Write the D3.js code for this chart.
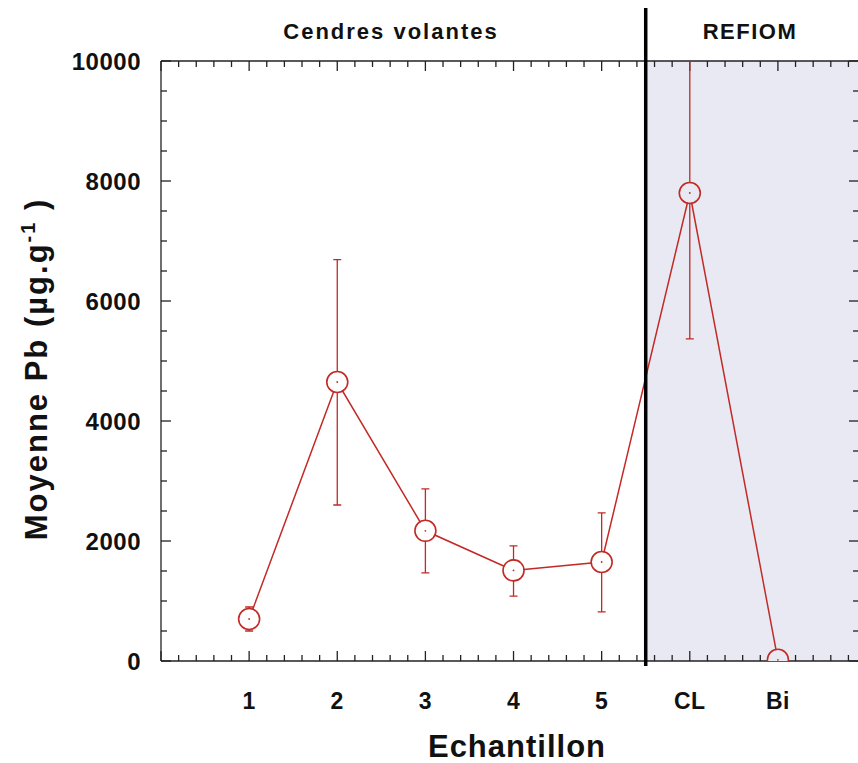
<!DOCTYPE html>
<html>
<head>
<meta charset="utf-8">
<script src="https://cdn.jsdelivr.net/npm/d3@7"></script>
<style>
  body { margin: 0; background: #fff; }
  text { font-family: "Liberation Sans", Arial, sans-serif; font-weight: bold; fill: #111; }
</style>
</head>
<body>
<div id="chart"></div>
<script>
// Data
let samples = [1, 2, 3, 4, 5, 6, 7];
let tickLabels = ["1", "2", "3", "4", "5", "CL", "Bi"];
let meanPb = [700, 4650, 2170, 1510, 1650, 7800, 20];
let errLow = [500, 2600, 1470, 1080, 820, 5370, null];
let errHigh = [900, 6690, 2870, 1920, 2470, 10230, null];
let yTicks = [0, 2000, 4000, 6000, 8000, 10000];

let svgWidth = 858;
let svgHeight = 763;

let margin = { top: 61, left: 161 };
let plotRight = 859;
let plotBottom = 661;

let svg = d3.select("#chart")
  .append("svg")
  .attr("width", svgWidth)
  .attr("height", svgHeight);

let x = d3.scaleLinear()
  .domain([0, 7.92])
  .range([margin.left, plotRight]);

let y = d3.scaleLinear()
  .domain([0, 10000])
  .range([plotBottom, margin.top]);

let red = "#c22a26";
let shade = "#e9e9f3";

// shaded REFIOM zone
svg.append("rect")
  .attr("x", x(5.5))
  .attr("y", y(10000))
  .attr("width", plotRight - x(5.5))
  .attr("height", y(0) - y(10000))
  .attr("fill", shade);

// clip for the data
svg.append("clipPath").attr("id", "clip")
  .append("rect")
  .attr("x", margin.left)
  .attr("y", margin.top)
  .attr("width", plotRight - margin.left)
  .attr("height", plotBottom - margin.top);

// axes with inward ticks, minor + major
function minor(step, max) {
  return d3.range(0, max + 1e-9, step);
}
let xMinor = minor(0.2, 7.92);
let yMinor = minor(500, 10000);

let axisG = svg.append("g")
  .attr("stroke", "#222")
  .attr("stroke-width", 1.3);

// frame lines
axisG.append("line").attr("x1", margin.left).attr("x2", plotRight).attr("y1", plotBottom).attr("y2", plotBottom);
axisG.append("line").attr("x1", margin.left).attr("x2", plotRight).attr("y1", margin.top).attr("y2", margin.top);
axisG.append("line").attr("x1", margin.left).attr("x2", margin.left).attr("y1", margin.top).attr("y2", plotBottom);
axisG.append("line").attr("x1", plotRight).attr("x2", plotRight).attr("y1", margin.top).attr("y2", plotBottom);

function isMajorX(v) { return Math.abs(v - Math.round(v)) < 1e-6; }
function isMajorY(v) { return v % 2000 === 0; }

xMinor.forEach(v => {
  let len = isMajorX(v) ? 10 : 6;
  axisG.append("line").attr("x1", x(v)).attr("x2", x(v)).attr("y1", plotBottom).attr("y2", plotBottom - len);
  axisG.append("line").attr("x1", x(v)).attr("x2", x(v)).attr("y1", margin.top).attr("y2", margin.top + len);
});
yMinor.forEach(v => {
  let len = isMajorY(v) ? 10 : 6;
  axisG.append("line").attr("x1", margin.left).attr("x2", margin.left + len).attr("y1", y(v)).attr("y2", y(v));
  axisG.append("line").attr("x1", plotRight).attr("x2", plotRight - len).attr("y1", y(v)).attr("y2", y(v));
});

// tick labels
svg.selectAll(".ylab")
  .data(yTicks)
  .enter()
  .append("text")
  .attr("x", 141)
  .attr("y", d => y(d))
  .attr("dy", "0.36em")
  .attr("text-anchor", "end")
  .style("font-size", "24px")
  .style("letter-spacing", "0.5px")
  .text(d => d);

svg.selectAll(".xlab")
  .data(samples)
  .enter()
  .append("text")
  .attr("x", d => x(d))
  .attr("y", 709)
  .attr("text-anchor", "middle")
  .style("font-size", "23px")
  .style("letter-spacing", "0.5px")
  .text((d, i) => tickLabels[i]);

// axis titles
svg.append("text")
  .attr("x", 517)
  .attr("y", 757)
  .attr("text-anchor", "middle")
  .style("font-size", "31px")
  .style("letter-spacing", "1px")
  .text("Echantillon");

let yt = svg.append("text")
  .attr("transform", "translate(47, 369) rotate(-90)")
  .attr("text-anchor", "middle")
  .style("font-size", "31px")
  .style("letter-spacing", "2px");
yt.append("tspan").text("Moyenne Pb (µg.g");
yt.append("tspan").attr("dy", "-12").style("font-size", "20px").text("-1");
yt.append("tspan").attr("dy", "12").text(" )");

svg.append("text")
  .attr("x", 391)
  .attr("y", 39)
  .attr("text-anchor", "middle")
  .style("font-size", "22px")
  .style("letter-spacing", "2px")
  .text("Cendres volantes");

svg.append("text")
  .attr("x", 750)
  .attr("y", 39)
  .attr("text-anchor", "middle")
  .style("font-size", "22px")
  .style("letter-spacing", "1.5px")
  .text("REFIOM");

// data
let dataG = svg.append("g").attr("clip-path", "url(#clip)");

let pts = samples.map((s, i) => ({ s: s, v: meanPb[i], lo: errLow[i], hi: errHigh[i] }));

dataG.selectAll(".err")
  .data(pts.filter(d => d.lo !== null))
  .enter()
  .append("path")
  .attr("fill", "none")
  .attr("stroke", red)
  .attr("stroke-width", 1.3)
  .attr("d", d => {
    let cx = x(d.s);
    return `M${cx},${y(d.lo)}V${y(d.hi)}` +
      `M${cx - 4},${y(d.lo)}H${cx + 4}` +
      `M${cx - 4},${y(d.hi)}H${cx + 4}`;
  });

dataG.append("path")
  .datum(pts)
  .attr("fill", "none")
  .attr("stroke", red)
  .attr("stroke-width", 1.5)
  .attr("d", d3.line().x(d => x(d.s)).y(d => y(d.v)));

// fill inside markers so lines stop at circle edge
dataG.selectAll(".ptfill")
  .data(pts)
  .enter()
  .append("circle")
  .attr("cx", d => x(d.s))
  .attr("cy", d => y(d.v))
  .attr("r", 10)
  .attr("fill", d => d.s > 5.5 ? shade : "#fff");

dataG.selectAll(".pt")
  .data(pts)
  .enter()
  .append("circle")
  .attr("cx", d => x(d.s))
  .attr("cy", d => y(d.v))
  .attr("r", 10.5)
  .attr("fill", "none")
  .attr("stroke", red)
  .attr("stroke-width", 1.6);

dataG.selectAll(".dot")
  .data(pts)
  .enter()
  .append("circle")
  .attr("cx", d => x(d.s))
  .attr("cy", d => y(d.v))
  .attr("r", 0.9)
  .attr("fill", red);

// separator line
svg.append("line")
  .attr("x1", x(5.5))
  .attr("x2", x(5.5))
  .attr("y1", 8)
  .attr("y2", 666)
  .attr("stroke", "#000")
  .attr("stroke-width", 3.5);
</script>
</body>
</html>
